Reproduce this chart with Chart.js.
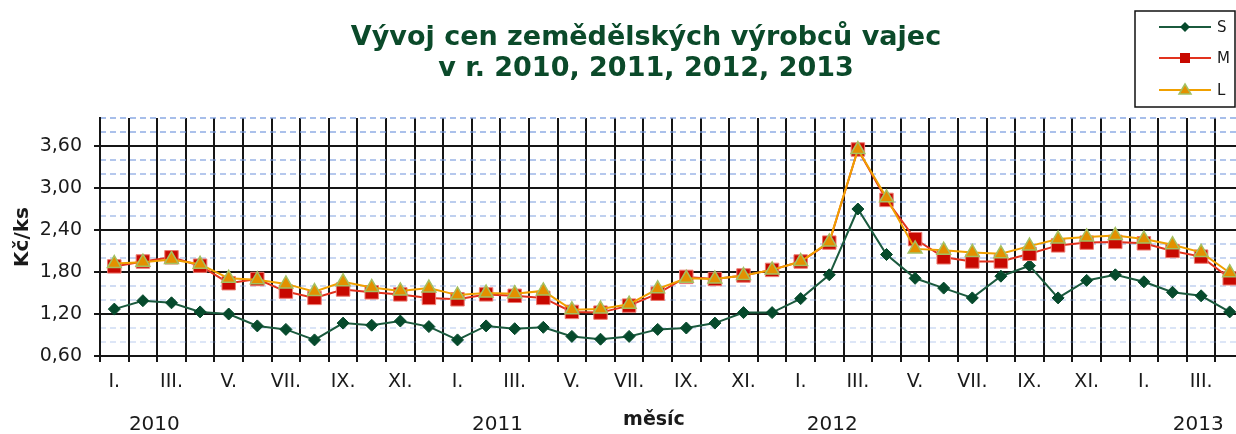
<!DOCTYPE html>
<html lang="cs">
<head>
<meta charset="utf-8">
<title>Vývoj cen zemědělských výrobců vajec</title>
<script src="https://cdn.jsdelivr.net/npm/chart.js@4/dist/chart.umd.min.js"></script>
<style>
  html, body { margin: 0; padding: 0; background: #fff; overflow: hidden; }
  #wrap { width: 1260px; height: 434px; }
</style>
</head>
<body>
<div id="wrap"><canvas id="eggChart" width="1260" height="434"></canvas></div>
<script>
/* ---- Data ---- */
const months = [
  "I.", "II.", "III.", "IV.", "V.", "VI.", "VII.", "VIII.", "IX.", "X.", "XI.", "XII.",
  "I.", "II.", "III.", "IV.", "V.", "VI.", "VII.", "VIII.", "IX.", "X.", "XI.", "XII.",
  "I.", "II.", "III.", "IV.", "V.", "VI.", "VII.", "VIII.", "IX.", "X.", "XI.", "XII.",
  "I.", "II.", "III.", "IV."
];
const years = ["2010", "2011", "2012", "2013"];

const priceS = [
  1.27, 1.39, 1.36, 1.23, 1.20, 1.03, 0.98, 0.83, 1.07, 1.04, 1.10, 1.02,
  0.83, 1.03, 0.99, 1.01, 0.88, 0.84, 0.88, 0.98, 1.00, 1.07, 1.22, 1.22,
  1.42, 1.76, 2.70, 2.05, 1.71, 1.57, 1.43, 1.74, 1.89, 1.43, 1.68, 1.76,
  1.66, 1.51, 1.46, 1.23
];
const priceM = [
  1.88, 1.95, 2.01, 1.89, 1.64, 1.70, 1.52, 1.43, 1.55, 1.51, 1.48, 1.43,
  1.41, 1.48, 1.46, 1.43, 1.23, 1.22, 1.32, 1.49, 1.73, 1.70, 1.75, 1.83,
  1.95, 2.22, 3.55, 2.83, 2.27, 2.01, 1.95, 1.95, 2.06, 2.18, 2.22, 2.23,
  2.21, 2.10, 2.02, 1.71
];
const priceL = [
  1.92, 1.94, 1.98, 1.91, 1.71, 1.69, 1.63, 1.52, 1.66, 1.58, 1.53, 1.57,
  1.47, 1.50, 1.49, 1.53, 1.26, 1.27, 1.34, 1.56, 1.71, 1.70, 1.75, 1.83,
  1.95, 2.23, 3.55, 2.86, 2.13, 2.11, 2.08, 2.06, 2.17, 2.27, 2.30, 2.32,
  2.27, 2.19, 2.08, 1.79
];

const yMin = 0.6, yMax = 4.0, yMajor = 0.6, yMinor = 0.2;

/* ---- Colours ---- */
const palette = {
  title:   "#0b4a2a",
  sLine:   "#1b5a3e",
  sPoint:  "#064a2c",
  mLine:   "#e2321e",
  mPoint:  "#c80800",
  mEdge:   "#ec7a70",
  lLine:   "#f0a000",
  lPoint:  "#e39000",
  lEdge:   "#a4c060",
  grid:    "#151515",
  text:    "#1a1a1a"
};
const FONT = "'DejaVu Sans', Verdana, sans-serif";

const isMajor = v => {
  const k = (v - yMin) / yMajor;
  return Math.abs(k - Math.round(k)) < 1e-6;
};

// dashed minor lines fade towards the bottom of the plot
const minorColor = v => {
  const t = (v - yMin) / (yMax - yMin);
  const a = 0.22 + 0.43 * t;
  return "rgba(120,155,222," + a.toFixed(2) + ")";
};

/* ---- Title, legend, year labels ---- */
const decorPlugin = {
  id: "decor",
  afterDraw(chart) {
    const c = chart.ctx;
    const x = chart.scales.x;
    c.save();

    // title
    c.fillStyle = palette.title;
    c.textAlign = "center";
    c.textBaseline = "middle";
    c.font = "bold 27px " + FONT;
    c.fillText("Vývoj cen zemědělských výrobců vajec", 646, 38);
    c.fillText("v r. 2010, 2011, 2012, 2013", 646, 69);

    // year row + axis caption
    c.fillStyle = palette.text;
    c.font = "20px " + FONT;
    const yearAt = [1.4, 13.4, 25.1, 37.9];
    years.forEach((y, i) => c.fillText(y, x.getPixelForValue(yearAt[i]), 425));
    c.font = "bold 19px " + FONT;
    c.fillText("měsíc", 654, 420);

    // legend box
    c.strokeStyle = "#111";
    c.lineWidth = 1.5;
    c.fillStyle = "#fff";
    c.fillRect(1135, 11, 100, 96);
    c.strokeRect(1135, 11, 100, 96);

    const rows = [
      { label: "S", y: 27, line: palette.sLine, draw: (px, py) => {
        c.fillStyle = palette.sPoint;
        c.beginPath();
        c.moveTo(px, py - 5); c.lineTo(px + 5, py); c.lineTo(px, py + 5); c.lineTo(px - 5, py);
        c.closePath(); c.fill();
      }},
      { label: "M", y: 58, line: palette.mLine, draw: (px, py) => {
        c.fillStyle = palette.mPoint;
        c.fillRect(px - 5, py - 5, 10, 10);
      }},
      { label: "L", y: 90, line: palette.lLine, draw: (px, py) => {
        c.fillStyle = palette.lPoint;
        c.strokeStyle = palette.lEdge;
        c.lineWidth = 1.5;
        c.beginPath();
        c.moveTo(px, py - 6); c.lineTo(px + 6, py + 4); c.lineTo(px - 6, py + 4);
        c.closePath(); c.fill(); c.stroke();
      }}
    ];
    rows.forEach(r => {
      c.strokeStyle = r.line;
      c.lineWidth = 2;
      c.beginPath();
      c.moveTo(1159, r.y); c.lineTo(1211, r.y);
      c.stroke();
      r.draw(1185, r.y);
      c.fillStyle = palette.text;
      c.font = "15px " + FONT;
      c.textAlign = "left";
      c.fillText(r.label, 1217, r.y + 1);
    });

    c.restore();
  }
};

/* ---- Chart ---- */
new Chart(document.getElementById("eggChart"), {
  type: "line",
  data: {
    labels: months,
    datasets: [
      {
        label: "S",
        data: priceS,
        order: 3,
        borderColor: palette.sLine,
        borderWidth: 2,
        pointStyle: "rectRot",
        pointRadius: 6,
        pointBackgroundColor: palette.sPoint,
        pointBorderColor: palette.sPoint,
        pointBorderWidth: 1
      },
      {
        label: "M",
        data: priceM,
        order: 2,
        borderColor: palette.mLine,
        borderWidth: 2,
        pointStyle: "rect",
        pointRadius: 9.5,
        pointBackgroundColor: palette.mPoint,
        pointBorderColor: palette.mEdge,
        pointBorderWidth: 1
      },
      {
        label: "L",
        data: priceL,
        order: 1,
        borderColor: palette.lLine,
        borderWidth: 2,
        pointStyle: "triangle",
        pointRadius: 8,
        pointBackgroundColor: palette.lPoint,
        pointBorderColor: palette.lEdge,
        pointBorderWidth: 1.5
      }
    ]
  },
  options: {
    responsive: false,
    animation: false,
    devicePixelRatio: 1,
    layout: { padding: { top: 118, right: 16, bottom: 0, left: 0 } },
    plugins: {
      legend: { display: false },
      tooltip: { enabled: false }
    },
    scales: {
      x: {
        type: "category",
        offset: true,
        afterFit: s => { s.height = 78; },
        grid: {
          offset: true,
          color: palette.grid,
          lineWidth: 2,
          tickLength: 6
        },
        border: { color: palette.grid, width: 2 },
        ticks: {
          autoSkip: false,
          maxRotation: 0,
          padding: 9,
          color: palette.text,
          font: { family: FONT, size: 19 },
          callback: (v, i) => (i % 2 === 0 ? months[i] : "")
        }
      },
      y: {
        position: "left",
        min: yMin,
        max: yMax,
        afterFit: s => { s.width = 100; },
        grid: {
          color: ctx => (isMajor(ctx.tick.value) ? palette.grid : "rgba(0,0,0,0)"),
          lineWidth: 2,
          tickLength: 6
        },
        border: { color: palette.grid, width: 2 },
        ticks: {
          stepSize: yMajor,
          padding: 12,
          color: palette.text,
          font: { family: FONT, size: 19 },
          callback: v => (isMajor(v) ? v.toFixed(2).replace(".", ",") : "")
        },
        title: {
          display: true,
          text: "Kč/ks",
          color: palette.text,
          font: { family: FONT, size: 20, weight: "bold" },
          padding: { top: 11, bottom: 0 }
        }
      },
      yMinor: {
        position: "left",
        min: yMin,
        max: yMax,
        afterFit: s => { s.width = 0; },
        grid: {
          color: ctx => (isMajor(ctx.tick.value) ? "rgba(0,0,0,0)" : minorColor(ctx.tick.value)),
          lineWidth: 2,
          drawTicks: false
        },
        border: { display: false, dash: [6, 4] },
        ticks: { display: false, stepSize: yMinor }
      }
    }
  },
  plugins: [decorPlugin]
});
</script>
</body>
</html>
